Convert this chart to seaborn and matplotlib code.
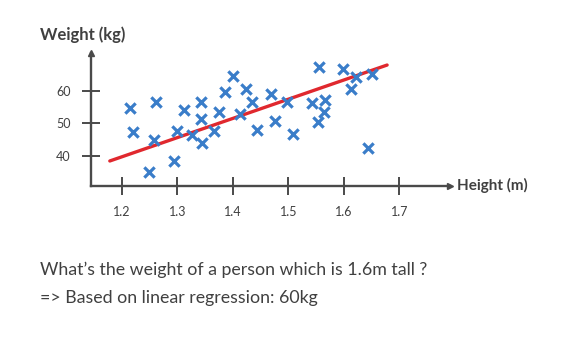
import matplotlib
matplotlib.use("Agg")
import matplotlib.pyplot as plt
import seaborn as sns
import pandas as pd

# Data
height_m = [1.214, 1.219, 1.261, 1.257, 1.248, 1.294, 1.299, 1.311, 1.326, 1.342,
            1.343, 1.344, 1.366, 1.374, 1.385, 1.401, 1.424, 1.435, 1.412, 1.443,
            1.469, 1.475, 1.497, 1.509, 1.555, 1.542, 1.566, 1.564, 1.554, 1.599,
            1.622, 1.612, 1.650, 1.644]
weight_kg = [54.6, 47.4, 56.4, 44.8, 35.1, 38.4, 47.6, 54.1, 46.4, 56.4,
             51.2, 44.0, 47.6, 53.4, 59.7, 64.5, 60.6, 56.4, 52.7, 47.9,
             59.1, 50.8, 56.6, 46.7, 67.2, 56.2, 57.2, 53.4, 50.3, 66.6,
             64.1, 60.5, 65.1, 42.3]
line_x = [1.178, 1.678]
line_y = [38.4, 67.9]
x_ticks = [1.2, 1.3, 1.4, 1.5, 1.6, 1.7]
y_ticks = [40, 50, 60]

sns.set_theme(style="white")
plt.rcParams['font.family'] = ['Lato', 'DejaVu Sans']

TXT = '#404040'
AX = '#4a4a4a'

fig = plt.figure(figsize=(5.68, 3.40), dpi=100)
ax = fig.add_axes([91 / 568, 1 - 185.7 / 340, (450 - 91) / 568, (185.7 - 53) / 340])

df = pd.DataFrame({"h": height_m, "w": weight_kg})
sns.lineplot(x=line_x, y=line_y, ax=ax, color='#e0282e', linewidth=2.4, zorder=3)
sns.scatterplot(data=df, x="h", y="w", ax=ax, marker='x', s=55, linewidth=2.3,
                color='#3a7dc9', zorder=4)

ax.set_xlim(1.1441, 1.7914)
ax.set_ylim(30.8, 71.6)
ax.set_xlabel('')
ax.set_ylabel('')
ax.set_facecolor('none')
fig.patch.set_facecolor('white')

for s in ['top', 'right']:
    ax.spines[s].set_visible(False)
for s in ['left', 'bottom']:
    ax.spines[s].set_color(AX)
    ax.spines[s].set_linewidth(1.7)

ax.plot(1, 0, '>', color=AX, markersize=5, transform=ax.transAxes, clip_on=False)
ax.plot(0, 1, '^', color=AX, markersize=5, transform=ax.transAxes, clip_on=False)

ax.set_xticks(x_ticks)
ax.set_xticklabels([f"{v:.1f}" for v in x_ticks])
ax.set_yticks(y_ticks)
ax.set_yticklabels([str(v) for v in y_ticks])
ax.tick_params(axis='both', direction='inout', length=13, width=1.4, color=AX,
               labelsize=9, labelcolor=TXT, pad=8, bottom=True, left=True)

fig.text(40 / 568, 1 - 35 / 340, 'Weight (kg)', ha='left', va='center',
         fontsize=12, fontweight='bold', color=TXT)
fig.text(457 / 568, 1 - 185 / 340, 'Height (m)', ha='left', va='center',
         fontsize=11, fontweight='bold', color=TXT)
fig.text(40 / 568, 1 - 270 / 340, 'What\u2019s the weight of a person which is 1.6m tall ?',
         ha='left', va='center', fontsize=12.8, color=TXT)
fig.text(40 / 568, 1 - 298 / 340, '=> Based on linear regression: 60kg',
         ha='left', va='center', fontsize=12.8, color=TXT)

fig.savefig('out.png', dpi=100)
